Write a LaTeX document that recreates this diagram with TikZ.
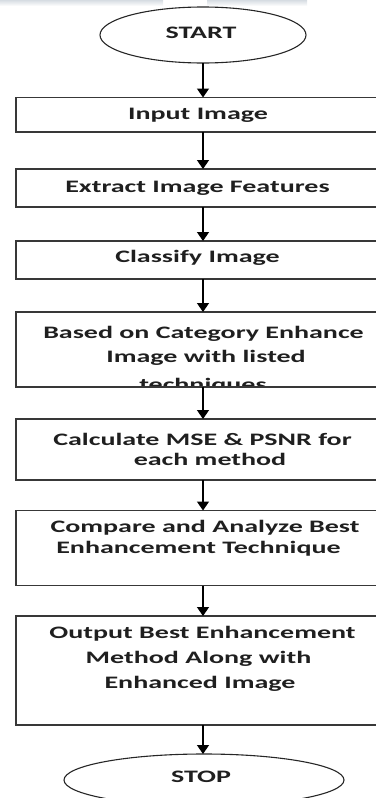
\documentclass[tikz,border=0pt]{standalone}
\usepackage{fontspec}
\setmainfont{Carlito}[FakeStretch=1.6]
\usetikzlibrary{shapes.geometric,arrows.meta}
\definecolor{wm}{RGB}{214,220,226}
\begin{document}
\begin{tikzpicture}[x=1pt,y=-1pt,
  box/.style={draw=black!78, line width=1.5pt, minimum width=374pt, inner sep=0pt, outer sep=0pt},
  oval/.style={ellipse, draw=black!85, line width=1.1pt, inner sep=0pt, outer sep=0pt},
  txt/.style={font=\fontsize{17.5}{20}\selectfont\bfseries, text=black!88, inner sep=0pt, anchor=base},
  arr/.style={draw=black, line width=1.4pt, -{Triangle[width=12pt,length=9pt]}}]
\useasboundingbox (0,0) rectangle (375,798);
% faint band at the top
\shade[top color=wm, bottom color=white] (0,0) rectangle (163,6);
\shade[top color=wm, bottom color=white] (207,0) rectangle (307,6);
% shapes
\node[oval, minimum width=206pt, minimum height=56pt] (start) at (203,35) {};
\node[box, minimum height=34.5pt] (b1) at (203,114.75) {};
\node[box, minimum height=38pt] (b2) at (203,188) {};
\node[box, minimum height=38pt] (b3) at (203,260) {};
\node[box, minimum height=75pt] (b4) at (203,349.5) {};
\node[box, minimum height=61pt] (b5) at (203,449.5) {};
\node[box, minimum height=75pt] (b6) at (203,548) {};
\node[box, minimum height=109pt] (b7) at (203,670.5) {};
\node[oval, minimum width=280pt, minimum height=52pt] (stop) at (204,780) {};
% texts
\node[txt] (t0) at (201,38.5) {START};
\node[txt] (t1) at (198,119) {Input Image};
\node[txt] (t2) at (197.5,192) {Extract Image Features};
\node[txt] (t3) at (197.5,262) {Classify Image};
\begin{scope}
  \clip (16,312) rectangle (390,385.5);
  \node[txt] (t4a) at (203.5,338) {Based on Category Enhance};
  \node[txt] (t4b) at (206,362) {Image with listed};
  \node[txt] (t4c) at (203,390.5) {techniques};
\end{scope}
\node[txt] (t5a) at (202.5,445) {Calculate MSE \& PSNR for};
\node[txt] (t5b) at (210,465) {each method};
\node[txt] (t6a) at (205,532) {Compare and Analyze Best};
\node[txt] (t6b) at (198.5,553) {Enhancement Technique};
\node[txt] (t7a) at (202.5,638) {Output Best Enhancement};
\node[txt] (t7b) at (198.5,663) {Method Along with};
\node[txt] (t7c) at (200,688) {Enhanced Image};
\node[txt] (t8) at (201,782) {STOP};
% connectors
\draw[arr] (start.south) -- (b1.north);
\draw[arr] (b1.south) -- (b2.north);
\draw[arr] (b2.south) -- (b3.north);
\draw[arr] (b3.south) -- (b4.north);
\draw[arr] (b4.south) -- (b5.north);
\draw[arr] (b5.south) -- (b6.north);
\draw[arr] (b6.south) -- (b7.north);
\draw[arr] (b7.south) -- (b7.south |- stop.north);
\end{tikzpicture}
\end{document}
